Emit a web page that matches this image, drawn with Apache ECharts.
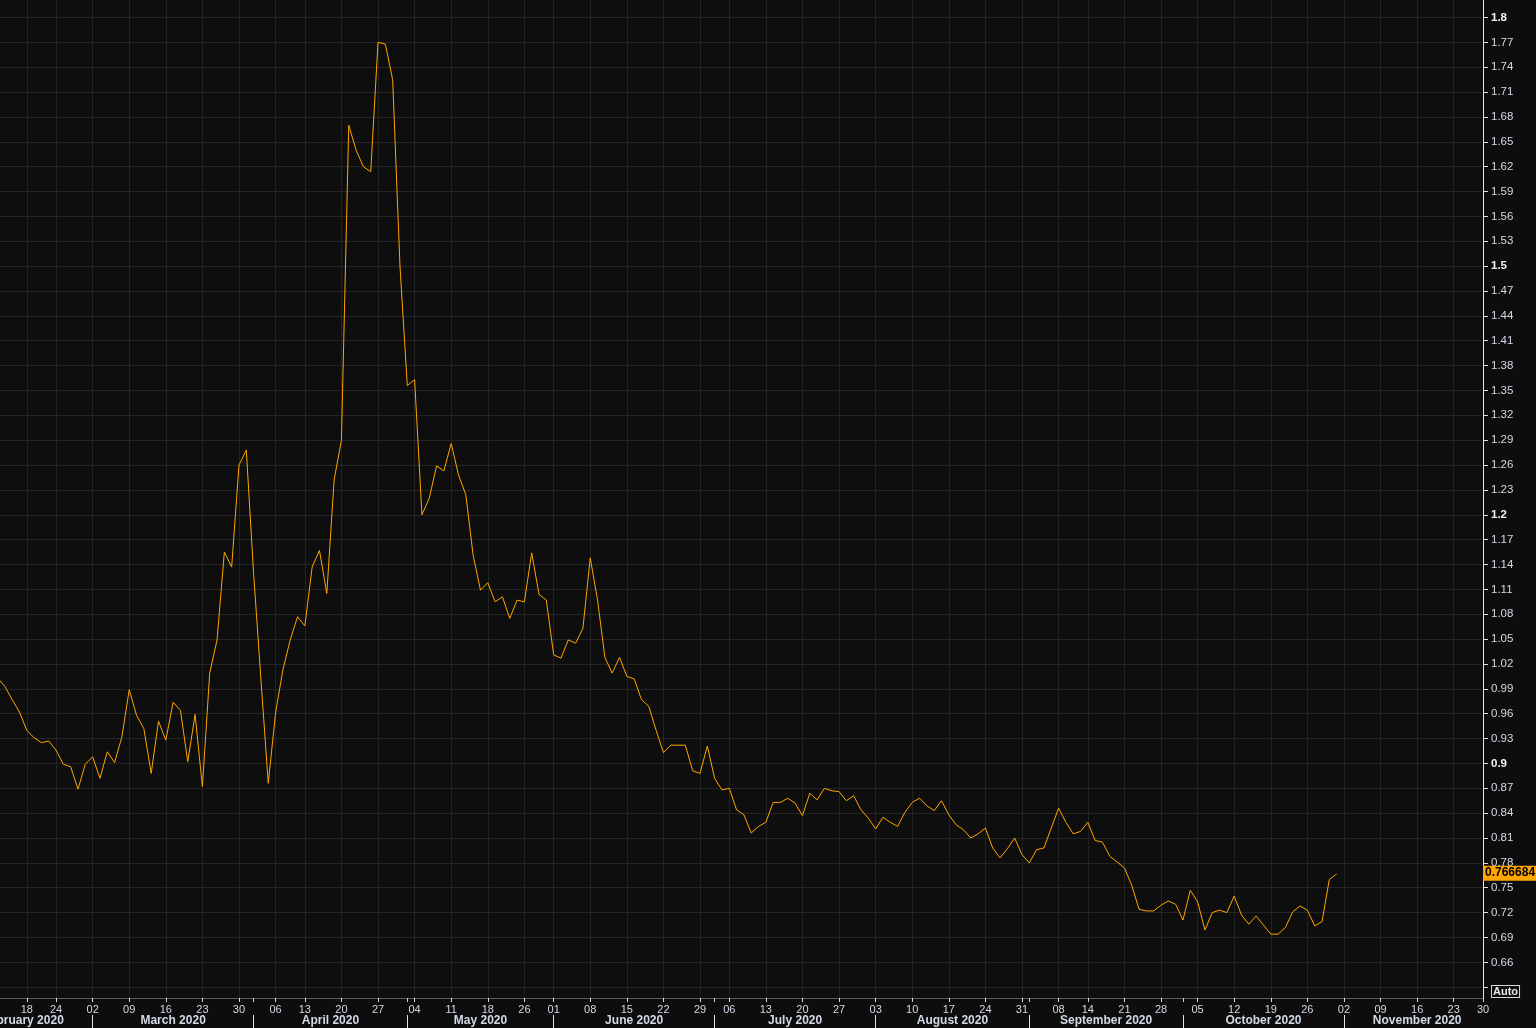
<!DOCTYPE html>
<html><head><meta charset="utf-8">
<script src="https://cdn.jsdelivr.net/npm/echarts@6/dist/echarts.min.js"></script>
<style>html,body{margin:0;padding:0;background:#0d0d0d;overflow:hidden}#c{width:1536px;height:1028px}</style>
</head><body><div id="c"></div>
<script>
// Trading calendar (US equity market)
const calendarStart = '2020-02-03';
const firstShown = '2020-02-11';
const calendarEnd = '2020-11-30';
const holidays = ['2020-02-17','2020-04-10','2020-05-25','2020-07-03','2020-09-07','2020-11-26'];

// Series values, one per trading day from 2020-02-11 to 2020-10-30
const values = [
 1.003,0.993,0.977,0.962,
 0.940,0.931,0.925,0.927,0.916,0.899,0.896,0.869,0.899,
 0.908,0.882,0.914,0.901,0.932,0.989,0.958,0.942,0.888,0.951,
 0.928,0.974,0.964,0.902,0.959,0.872,1.009,1.049,1.155,1.137,
 1.260,1.278,1.129,1.001,0.876,0.961,1.013,1.049,1.077,1.066,
 1.137,1.157,1.105,1.242,1.290,1.670,1.640,1.620,1.614,1.770,
 1.768,1.725,1.500,1.356,1.363,1.200,1.220,1.259,1.253,1.286,
 1.248,1.224,1.151,1.109,1.118,1.095,1.101,1.075,1.097,1.095,
 1.154,1.104,1.097,1.031,1.027,1.049,1.045,1.063,1.148,1.097,
 1.028,1.009,1.028,1.005,1.002,0.977,0.969,0.940,0.913,0.922,
 0.922,0.922,0.891,0.888,0.921,0.882,0.868,0.870,0.844,0.838,
 0.816,0.824,0.829,0.853,0.853,0.858,0.852,0.837,0.864,0.856,
 0.870,0.867,0.866,0.855,0.861,0.844,0.834,0.821,0.835,0.829,
 0.824,0.841,0.853,0.858,0.849,0.843,0.855,0.838,0.826,0.820,
 0.810,0.815,0.822,0.798,0.786,0.797,0.810,0.790,0.780,0.796,
 0.798,0.822,0.846,0.829,0.815,0.818,0.829,0.807,0.805,0.788,
 0.781,0.774,0.753,0.724,0.722,0.722,0.729,0.734,0.730,0.711,
 0.747,0.733,0.699,0.720,0.723,0.720,0.740,0.717,0.706,0.716,
 0.705,0.694,0.694,0.702,0.721,0.728,0.723,0.704,0.709,0.760,
 0.766684
];

// Y tick labels
const yTicks = [0.63,0.66,0.69,0.72,0.75,0.78,0.81,0.84,0.87,0.9,0.93,0.96,0.99,1.02,1.05,1.08,1.11,1.14,1.17,1.2,
 1.23,1.26,1.29,1.32,1.35,1.38,1.41,1.44,1.47,1.5,1.53,1.56,1.59,1.62,1.65,1.68,1.71,1.74,1.77,1.8];
const yBold = [0.9,1.2,1.5,1.8];
const yHidden = [0.63];
const monthNames = ['January','February','March','April','May','June','July','August','September','October','November','December'];

// ---- build calendar ----
function fmt(d){return d.getUTCFullYear()+'-'+String(d.getUTCMonth()+1).padStart(2,'0')+'-'+String(d.getUTCDate()).padStart(2,'0');}
const allDays = [];
for (let d = new Date(calendarStart+'T00:00:00Z'); fmt(d) <= calendarEnd; d.setUTCDate(d.getUTCDate()+1)) {
  const w = d.getUTCDay(); const s = fmt(d);
  if (w === 0 || w === 6 || holidays.indexOf(s) >= 0) continue;
  allDays.push(s);
}
const offset = allDays.indexOf(firstShown);
const days = allDays.slice(offset);
const N = days.length;
function dnum(s){return Date.parse(s+'T00:00:00Z')/86400000;}
const weekStart = {}, monthStart = {};
allDays.forEach((s,i)=>{
  if (i===0){weekStart[s]=true;monthStart[s]=true;return;}
  const p = allDays[i-1];
  const dw = new Date(s+'T00:00:00Z').getUTCDay(), pw = new Date(p+'T00:00:00Z').getUTCDay();
  if (dw <= pw || dnum(s)-dnum(p) >= 7) weekStart[s]=true;
  if (s.slice(5,7) !== p.slice(5,7)) monthStart[s]=true;
});
const mFirst = [];
allDays.forEach((s,i)=>{ if (monthStart[s]) mFirst.push({i:i-offset, m:+s.slice(5,7)-1, y:s.slice(0,4)}); });
const sepValues = mFirst.map(o=>o.i).filter(v=>v>=0 && v<=N-1);
const monthMid = [], monthMidName = {};
mFirst.forEach((o,k)=>{
  const end = k+1<mFirst.length ? mFirst[k+1].i : N;
  const mid = (o.i+end)/2;
  monthMid.push(mid); monthMidName[mid] = monthNames[o.m]+' '+o.y;
});

const lastVal = values[values.length-1];
const chart = echarts.init(document.getElementById('c'), null, {renderer:'canvas'});
const FONT = '"Liberation Sans", Arial, sans-serif';
chart.setOption({
  backgroundColor: '#0d0d0d',
  animation: false,
  grid: {left: -2.5, right: 53, top: 0, bottom: 30, containLabel: false, outerBoundsMode: 'none',
    show: true, backgroundColor: '#0e0e0e', borderWidth: 0},
  xAxis: [{
    type: 'category', data: days, boundaryGap: false,
    axisLine: {show: true, onZero: false, lineStyle: {color: '#5a5a5a'}},
    axisTick: {show: true, length: 4, lineStyle: {color: '#d8d8d8'},
      interval: (i,v)=> !!(weekStart[v] || monthStart[v])},
    axisLabel: {interval: (i,v)=> !!weekStart[v], formatter: v=>v.slice(8,10),
      color: '#d2dae6', fontFamily: FONT, fontSize: 11, margin: 6},
    splitLine: {show: true, interval: (i,v)=> !!weekStart[v], lineStyle: {color: '#232323'}}
  },{
    type: 'value', min: 0, max: N-1, position: 'bottom', offset: 17,
    axisLine: {show: false, onZero: false},
    axisTick: {show: true, length: 14, customValues: sepValues, lineStyle: {color: '#e0e0e0'}},
    axisLabel: {show: true, customValues: monthMid, formatter: v=>monthMidName[v]||'',
      color: '#d2dae6', fontFamily: FONT, fontSize: 12, fontWeight: 'bold', margin: 0},
    splitLine: {show: false}
  }],
  yAxis: {
    type: 'value', position: 'right', min: 0.61696, max: 1.82111,
    axisLine: {show: true, onZero: false, lineStyle: {color: '#e8e8e8'}},
    axisTick: {show: true, length: 5, customValues: yTicks, lineStyle: {color: '#e0e0e0'}},
    axisLabel: {customValues: yTicks, margin: 8, fontFamily: FONT, fontSize: 11,
      formatter: v=> yHidden.indexOf(v)>=0 ? '' : (yBold.indexOf(v)>=0 ? '{b|'+v+'}' : '{n|'+v+'}'),
      rich: {n: {color: '#d2dae6', fontFamily: FONT, fontSize: 11.5},
             b: {color: '#eef2f8', fontFamily: FONT, fontSize: 11.5, fontWeight: 'bold'}}},
    splitLine: {show: true, lineStyle: {color: '#242424'}}
  },
  series: [{
    type: 'line', data: values, xAxisIndex: 0, showSymbol: false, symbol: 'none', clip: false,
    lineStyle: {color: '#ffa500', width: 1}, itemStyle: {color: '#ffa500'},
    markLine: {silent: true, symbol: 'none',
      lineStyle: {color: 'rgba(0,0,0,0)', width: 0, type: 'solid'},
      label: {show: true, position: 'end', distance: 0, formatter: String(lastVal), backgroundColor: '#ffa500',
        color: '#000', opacity: 1, fontFamily: FONT, fontSize: 12, fontWeight: 'bold',
        padding: [2,2,1,2], offset: [0, 2]},
      data: [{yAxis: lastVal}]}
  }],
  graphic: [{type: 'text', left: 1491, top: 985,
    style: {text: 'Auto', fill: '#e8e8e8', font: 'bold 11px ' + FONT,
      borderColor: '#d8d8d8', borderWidth: 1, padding: [0,1,0,1], backgroundColor: '#0d0d0d'}}]
});
</script></body></html>
